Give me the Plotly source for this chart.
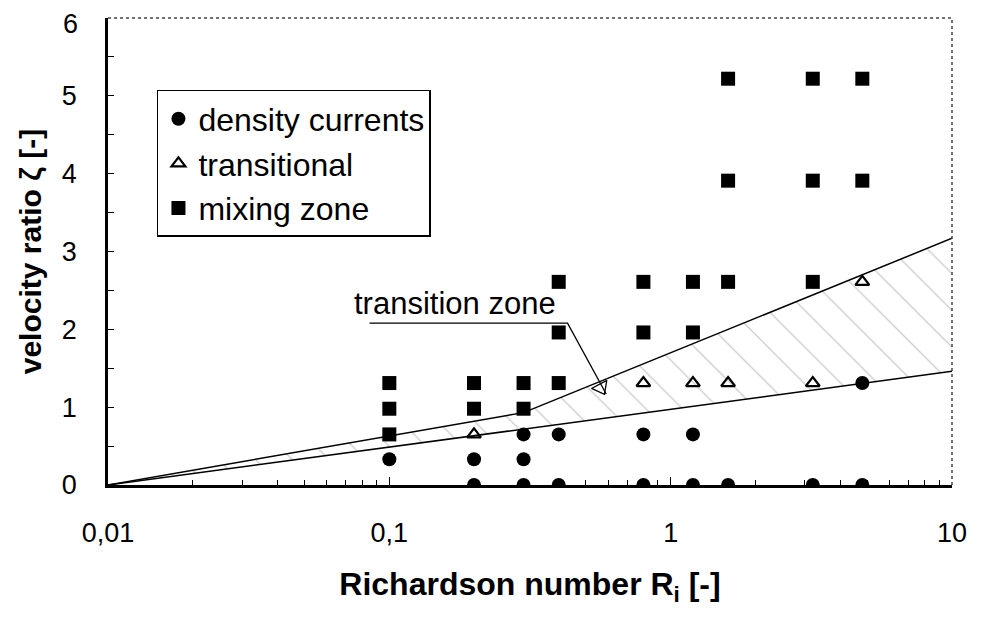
import plotly.graph_objects as go

# ---- data ----
dc_x = [0.1, 0.2, 0.2, 0.3, 0.3, 0.3, 0.4, 0.4, 0.8, 0.8, 1.2, 1.2, 1.6, 3.2, 4.8, 4.8]
dc_y = [0.33, 0.33, 0.0, 0.65, 0.33, 0.0, 0.65, 0.0, 0.65, 0.0, 0.65, 0.0, 0.0, 0.0, 1.31, 0.0]

tr_x = [0.2, 0.8, 1.2, 1.6, 3.2, 4.8]
tr_y = [0.65, 1.31, 1.31, 1.31, 1.31, 2.61]

mz_x = [0.1, 0.1, 0.1, 0.2, 0.2, 0.3, 0.3, 0.4, 0.4, 0.4,
        0.8, 0.8, 1.2, 1.2, 1.6, 1.6, 1.6, 3.2, 3.2, 3.2, 4.8, 4.8]
mz_y = [0.65, 0.98, 1.31, 0.98, 1.31, 0.98, 1.31, 1.31, 1.96, 2.61,
        1.96, 2.61, 1.96, 2.61, 2.61, 3.91, 5.22, 2.61, 3.91, 5.22, 3.91, 5.22]

upper_x = [0.01, 0.3, 10]
upper_y = [0.0, 0.93, 3.17]
lower_x = [0.01, 10]
lower_y = [0.0, 1.46]

x_tickvals = [0.01, 0.1, 1, 10]
x_ticktext = ["0,01", "0,1", "1", "10"]
y_tickvals = [0, 1, 2, 3, 4, 5, 6]
# the top label ("6") is drawn as an annotation so it stays inside the page
y_ticktext = ["0", "1", "2", "3", "4", "5", ""]
y_top_label = "6"

# "transition zone" label: underline + leader, and arrow head position
label_x = [0.085, 0.43, 0.59]
label_y = [2.08, 2.08, 1.17]
head_x = [0.565]
head_y = [1.25]

FONT = "Liberation Sans, Arial, sans-serif"

fig = go.Figure()

# hatched transition zone
poly_x = upper_x + lower_x[::-1]
poly_y = upper_y + lower_y[::-1]
fig.add_trace(go.Scatter(
    x=poly_x, y=poly_y, mode="lines", fill="toself",
    line=dict(width=0, color="rgba(0,0,0,0)"),
    fillcolor="rgba(255,255,255,0)",
    fillpattern=dict(shape="\\", fgcolor="#9a9a9a", bgcolor="rgba(255,255,255,0)",
                     size=26, solidity=0.05),
    showlegend=False, hoverinfo="skip"))

fig.add_trace(go.Scatter(x=upper_x, y=upper_y, mode="lines",
                         line=dict(color="black", width=1.5), showlegend=False))
fig.add_trace(go.Scatter(x=lower_x, y=lower_y, mode="lines",
                         line=dict(color="black", width=1.5), showlegend=False))

# label leader line and open arrow head
fig.add_trace(go.Scatter(x=label_x, y=label_y, mode="lines",
                         line=dict(color="black", width=1.3), showlegend=False))
fig.add_trace(go.Scatter(x=head_x, y=head_y, mode="markers",
                         marker=dict(symbol="triangle-down-open", size=15, angle=-28,
                                     color="black", line=dict(width=1.3, color="black")),
                         showlegend=False))

fig.add_trace(go.Scatter(x=dc_x, y=dc_y, mode="markers", name="density currents",
                         legendgroup="a",
                         marker=dict(symbol="circle", size=14, color="black")))
fig.add_trace(go.Scatter(x=tr_x, y=tr_y, mode="markers", name="transitional",
                         legendgroup="b",
                         marker=dict(symbol="triangle-up-open", size=12, color="black",
                                     line=dict(width=2.2, color="black"))))
fig.add_trace(go.Scatter(x=mz_x, y=mz_y, mode="markers", name="mixing zone",
                         legendgroup="c",
                         marker=dict(symbol="square", size=14, color="black")))

fig.add_annotation(x=-0.766, y=2.08, xref="x", yref="y", text="transition zone",
                   showarrow=False, yanchor="bottom", yshift=0,
                   font=dict(family=FONT, size=31, color="black"))
fig.add_annotation(x=0, y=y_tickvals[-1], xref="paper", yref="y", text=y_top_label,
                   showarrow=False, xanchor="right", yanchor="middle",
                   xshift=-29, yshift=-6, borderpad=0,
                   font=dict(family=FONT, size=27, color="black"))

# dotted top/right frame
fig.add_shape(type="line", xref="paper", yref="paper", x0=0, x1=1, y0=1, y1=1,
              line=dict(color="#444444", width=1.5, dash="dot"))
fig.add_shape(type="line", xref="paper", yref="paper", x0=1, x1=1, y0=0, y1=1,
              line=dict(color="#444444", width=1.5, dash="dot"))

minor_x = [m * 10 ** e for e in (-2, -1, 0) for m in range(2, 10)]

fig.update_xaxes(type="log", range=[-2, 1], tickvals=x_tickvals, ticktext=x_ticktext,
                 automargin=False, ticklabeloverflow="allow",
                 showgrid=False, zeroline=False, showline=True, linecolor="black",
                 linewidth=2.5, ticks="inside", ticklen=8, tickcolor="black",
                 ticklabelstandoff=22,
                 minor=dict(tickvals=minor_x, ticks="inside", ticklen=5, tickcolor="black"),
                 tickfont=dict(family=FONT, size=27, color="black"),
                 title=dict(text="<b>Richardson number R<sub>i</sub> [-]</b>", standoff=26,
                            font=dict(family=FONT, size=32, color="black")))
fig.update_yaxes(range=[0, 6], tickvals=y_tickvals, ticktext=y_ticktext,
                 showgrid=False, zeroline=False,
                 automargin=False, ticklabeloverflow="allow",
                 showline=True, linecolor="black", linewidth=2.5,
                 ticks="inside", ticklen=6, tickcolor="black",
                 ticklabelstandoff=23,
                 minor=dict(dtick=0.5, ticks="inside", ticklen=6, tickcolor="black"),
                 tickfont=dict(family=FONT, size=27, color="black"),
                 title=dict(text="<b>velocity ratio ζ [-]</b>", standoff=12,
                            font=dict(family=FONT, size=30, color="black")))

# the page body has an 8px margin, so the figure is sized/padded to compensate
fig.update_layout(
    width=973, height=609,
    margin=dict(l=100, r=29, t=10, b=132),
    plot_bgcolor="white", paper_bgcolor="white",
    showlegend=True,
    legend=dict(x=0.058, y=0.846, xanchor="left", yanchor="top",
                bordercolor="black", borderwidth=1.5, bgcolor="white",
                font=dict(family=FONT, size=32, color="black"),
                traceorder="grouped", tracegroupgap=0, itemwidth=30),
)

fig.write_html("out.html")
